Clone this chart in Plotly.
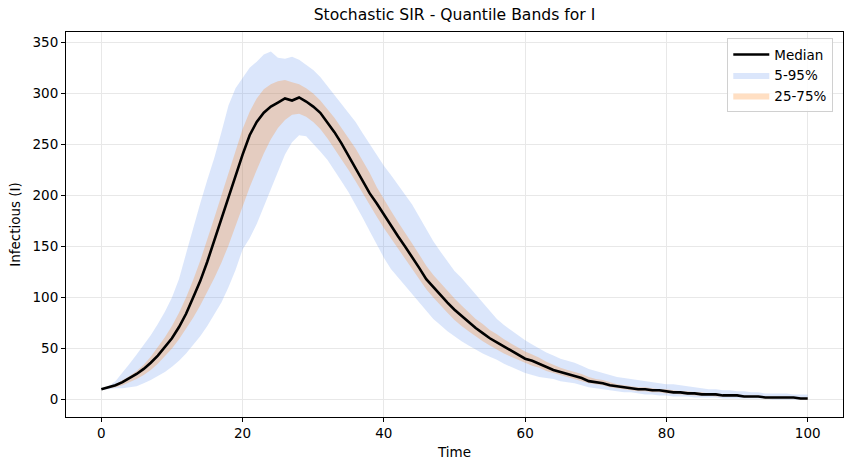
import plotly.graph_objects as go

time = list(range(0, 101))
median = [10, 12, 14, 17, 21, 25, 30, 36, 43, 51, 60, 71, 84, 100, 116, 135, 156, 178, 200, 220,
          240, 259, 272, 281, 287, 291, 295, 293, 296, 292, 287, 281, 272, 262, 251, 239, 227, 214, 202, 192,
          181, 171, 160, 150, 140, 129, 118, 110, 102, 95, 88, 82, 76, 70, 65, 60, 56, 52, 48, 44,
          40, 38, 35, 32, 29, 27, 25, 23, 21, 18, 17, 16, 14, 13, 12, 11, 10, 10, 9, 9,
          8, 7, 7, 6, 6, 5, 5, 5, 4, 4, 4, 3, 3, 3, 2, 2, 2, 2, 2, 1, 1]
q05 = [10, 10, 11, 11, 12, 13, 16, 19, 23, 27, 32, 38, 45, 53, 62, 72, 83, 95, 110, 127,
       147, 158, 172, 189, 207, 224, 240, 252, 259, 258, 251, 243, 235, 225, 214, 203, 191, 178, 165, 152,
       139, 128, 120, 112, 103, 95, 87, 79, 73, 67, 62, 57, 53, 49, 45, 42, 39, 35, 32, 29,
       26, 24, 22, 21, 20, 18, 17, 16, 14, 12, 11, 10, 9, 8, 7, 7, 6, 5, 5, 4,
       4, 3, 3, 3, 2, 2, 2, 2, 1, 1, 1, 1, 1, 1, 1, 0, 0, 0, 0, 0, 0]
q95 = [10, 13, 18, 26, 35, 44, 53, 63, 74, 86, 100, 118, 143, 168, 192, 215, 237, 262, 288, 305,
       315, 325, 331, 338, 341, 335, 334, 336, 333, 328, 323, 316, 307, 299, 290, 281, 272, 261, 250, 240,
       229, 220, 210, 200, 191, 179, 167, 155, 145, 135, 126, 119, 111, 102, 94, 86, 79, 73, 68, 63,
       58, 54, 50, 46, 43, 40, 38, 36, 33, 30, 28, 26, 24, 22, 21, 20, 19, 18, 17, 16,
       15, 15, 14, 13, 12, 11, 10, 10, 9, 9, 8, 8, 7, 7, 6, 6, 6, 6, 5, 5, 5]
q25 = [10, 11, 12, 14, 17, 20, 24, 29, 35, 42, 50, 59, 69, 80, 92, 105, 119, 134, 151, 170,
       190, 208, 225, 241, 255, 266, 274, 279, 280, 277, 272, 265, 256, 246, 236, 225, 214, 202, 190, 179,
       168, 158, 148, 138, 128, 118, 108, 100, 92, 85, 78, 72, 67, 62, 57, 53, 49, 45, 42, 39,
       36, 33, 31, 28, 26, 24, 22, 20, 18, 16, 15, 14, 12, 11, 10, 9, 8, 8, 7, 7,
       6, 6, 5, 5, 4, 4, 4, 3, 3, 3, 3, 2, 2, 2, 1, 1, 1, 1, 1, 0, 0]
q75 = [10, 12, 15, 19, 23, 28, 34, 42, 51, 61, 72, 85, 100, 117, 136, 156, 178, 200, 222, 245,
       265, 282, 295, 304, 309, 312, 313, 311, 309, 305, 300, 293, 285, 276, 266, 256, 246, 234, 222, 208,
       196, 185, 174, 164, 153, 142, 131, 122, 114, 106, 99, 92, 85, 79, 74, 68, 64, 59, 55, 51,
       47, 44, 41, 37, 34, 31, 29, 27, 25, 22, 20, 19, 17, 15, 14, 13, 12, 12, 11, 10,
       10, 9, 8, 8, 7, 7, 6, 6, 5, 5, 5, 4, 4, 4, 3, 3, 3, 3, 2, 2, 2]

x_ticks = [0, 20, 40, 60, 80, 100]
y_ticks = [0, 50, 100, 150, 200, 250, 300, 350]

BLUE = "rgba(100,149,237,0.23)"
ORANGE = "rgba(255,127,14,0.25)"
FONT = "DejaVu Sans"

fig = go.Figure()
fig.add_trace(go.Scatter(x=time, y=q05, mode="lines", line=dict(width=0),
                         showlegend=False, hoverinfo="skip"))
fig.add_trace(go.Scatter(x=time, y=q95, mode="lines", line=dict(width=0),
                         fill="tonexty", fillcolor=BLUE, name="5-95%", legendrank=2))
fig.add_trace(go.Scatter(x=time, y=q25, mode="lines", line=dict(width=0),
                         showlegend=False, hoverinfo="skip"))
fig.add_trace(go.Scatter(x=time, y=q75, mode="lines", line=dict(width=0),
                         fill="tonexty", fillcolor=ORANGE, name="25-75%", legendrank=3))
fig.add_trace(go.Scatter(x=time, y=median, mode="lines", line=dict(color="black", width=2.6),
                         name="Median", legendrank=1))

axis_common = dict(
    showline=True, linecolor="black", linewidth=1, mirror=True,
    ticks="outside", ticklen=4, tickcolor="black", tickwidth=1,
    showgrid=True, gridcolor="#e8e8e8", gridwidth=1, zeroline=False,
    tickfont=dict(family=FONT, size=13.5, color="black"),
)

fig.update_layout(
    width=850, height=470,
    margin=dict(l=66, r=7, t=32, b=53),
    plot_bgcolor="white", paper_bgcolor="white",
    font=dict(family=FONT, size=13.5, color="black"),
    title=dict(text="Stochastic SIR - Quantile Bands for I", x=(66 + 843) / 2 / 850, xanchor="center",
               y=1 - 15 / 470, yanchor="middle", yref="container",
               font=dict(family=FONT, size=15.6, color="black")),
    xaxis=dict(range=[-5, 105], tickvals=x_ticks,
               title=dict(text="Time", standoff=7, font=dict(family=FONT, size=13.5)), **axis_common),
    yaxis=dict(range=[-17.15, 360.15], tickvals=y_ticks,
               title=dict(text="Infectious (I)", standoff=8, font=dict(family=FONT, size=13.5)), **axis_common),
    legend=dict(x=0.9875, xanchor="right", y=0.984, yanchor="top", traceorder="normal",
                bgcolor="rgba(255,255,255,0.85)", bordercolor="#d0d0d0", borderwidth=1,
                font=dict(family=FONT, size=13.5), tracegroupgap=0, itemwidth=36),
)

fig.write_html("out.html")
